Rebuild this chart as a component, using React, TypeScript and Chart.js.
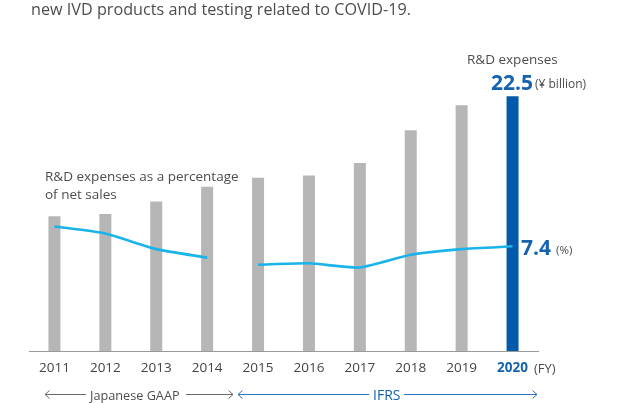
import React, { useEffect, useRef } from "react";
import { Chart, registerables } from "chart.js";

Chart.register(...registerables);

// ---- data ----
const years = ["2011", "2012", "2013", "2014", "2015", "2016", "2017", "2018", "2019", "2020"];
const rdExpenses = [11.9, 12.1, 13.2, 14.5, 15.3, 15.5, 16.6, 19.5, 21.7, 22.5]; // ¥ billion
const rdRatioGaap = [8.8, 8.3, 7.2, 6.6, null, null, null, null, null, null]; // %
const rdRatioIfrs = [null, null, null, null, 6.1, 6.2, 5.9, 6.8, 7.2, 7.4]; // %

const GRAY_BAR = "#b5b6b5";
const BLUE_BAR = "#045aaa";
const LINE_COLOR = "#1ab4ea";
const TEXT = "#4d4d4d";
const BLUE_TEXT = "#1462b0";
const FONT = "'Open Sans', 'Noto Sans', sans-serif";

const T: React.FC<{ x: number; y: number; size: number; color?: string; bold?: boolean; children: React.ReactNode }> = ({ x, y, size, color = TEXT, bold, children }) => (
  <div
    style={{
      position: "absolute",
      left: x,
      top: y,
      fontFamily: FONT,
      fontSize: size,
      lineHeight: 1,
      fontWeight: bold ? 700 : 400,
      color,
      whiteSpace: "nowrap",
    }}
  >
    {children}
  </div>
);

export default function App() {
  const canvasRef = useRef<HTMLCanvasElement | null>(null);

  useEffect(() => {
    if (!canvasRef.current) return;
    const last = years.length - 1;
    const chart = new Chart(canvasRef.current, {
      type: "bar",
      data: {
        labels: years,
        datasets: [
          {
            type: "line",
            data: rdRatioGaap,
            yAxisID: "y1",
            borderColor: LINE_COLOR,
            borderWidth: 2.6,
            pointRadius: 0,
            tension: 0.2,
            spanGaps: false,
            order: 0,
          } as any,
          {
            type: "line",
            data: rdRatioIfrs,
            yAxisID: "y1",
            borderColor: LINE_COLOR,
            borderWidth: 2.6,
            pointRadius: 0,
            tension: 0.2,
            spanGaps: false,
            order: 0,
          } as any,
          {
            type: "bar",
            data: rdExpenses,
            yAxisID: "y",
            backgroundColor: years.map((_, i) => (i === last ? BLUE_BAR : GRAY_BAR)),
            barPercentage: 0.236,
            categoryPercentage: 1,
            order: 1,
          } as any,
        ],
      },
      options: {
        animation: false,
        responsive: true,
        maintainAspectRatio: false,
        events: [],
        layout: { padding: { left: 29, right: 79, top: 68, bottom: 0 } },
        plugins: { legend: { display: false }, tooltip: { enabled: false } },
        scales: {
          x: {
            grid: { display: false, drawTicks: false },
            border: { display: true, color: "#9a9a9a", width: 1 },
            ticks: {
              padding: 9,
              color: (ctx: any) => (ctx.index === last ? BLUE_TEXT : "#444"),
              font: (ctx: any) => ({ family: FONT, size: 13.5, weight: ctx.index === last ? "bold" : "normal" }),
            },
            afterFit: (s: any) => {
              s.height = 52;
            },
          },
          y: { display: false, min: 0, max: 25 },
          y1: { display: false, min: 0, max: 20, position: "right" },
        },
      } as any,
    });
    return () => chart.destroy();
  }, []);

  return (
    <div style={{ position: "fixed", left: 0, top: 0, width: 617, height: 403, background: "#fff", overflow: "hidden" }}>
      <div style={{ position: "absolute", left: 0, top: 0, width: 617, height: 403 }}>
        <canvas ref={canvasRef} />
      </div>
      <svg width={617} height={403} style={{ position: "absolute", left: 0, top: 0, pointerEvents: "none" }}>
        <g stroke="#6a6a6a" strokeWidth={1} fill="none">
          <line x1={45} y1={394.5} x2={86} y2={394.5} />
          <polyline points="49.5,390.5 45,394.5 49.5,398.5" />
          <line x1={186} y1={394.5} x2={233} y2={394.5} />
          <polyline points="228.5,390.5 233,394.5 228.5,398.5" />
        </g>
        <g stroke="#2a70bd" strokeWidth={1} fill="none">
          <line x1={238} y1={394.5} x2={369} y2={394.5} />
          <polyline points="242.5,390.5 238,394.5 242.5,398.5" />
          <line x1={404} y1={394.5} x2={537} y2={394.5} />
          <polyline points="532.5,390.5 537,394.5 532.5,398.5" />
        </g>
      </svg>
      <T x={31} y={1} size={16.2}>new IVD products and testing related to COVID-19.</T>
      <T x={467} y={53} size={13.5}>R&amp;D expenses</T>
      <T x={491} y={71.5} size={21} bold color={BLUE_TEXT}>22.5</T>
      <T x={535} y={77.5} size={12}>(¥ billion)</T>
      <T x={45} y={170} size={13.5}>R&amp;D expenses as a percentage</T>
      <T x={45} y={188} size={13.5}>of net sales</T>
      <T x={521} y={236.5} size={21} bold color={BLUE_TEXT}>7.4</T>
      <T x={556} y={244} size={11.5}>(%)</T>
      <T x={534} y={362} size={13}>(FY)</T>
      <T x={90} y={388.5} size={12.7}>Japanese GAAP</T>
      <T x={373} y={388} size={14} color={BLUE_TEXT}>IFRS</T>
    </div>
  );
}
